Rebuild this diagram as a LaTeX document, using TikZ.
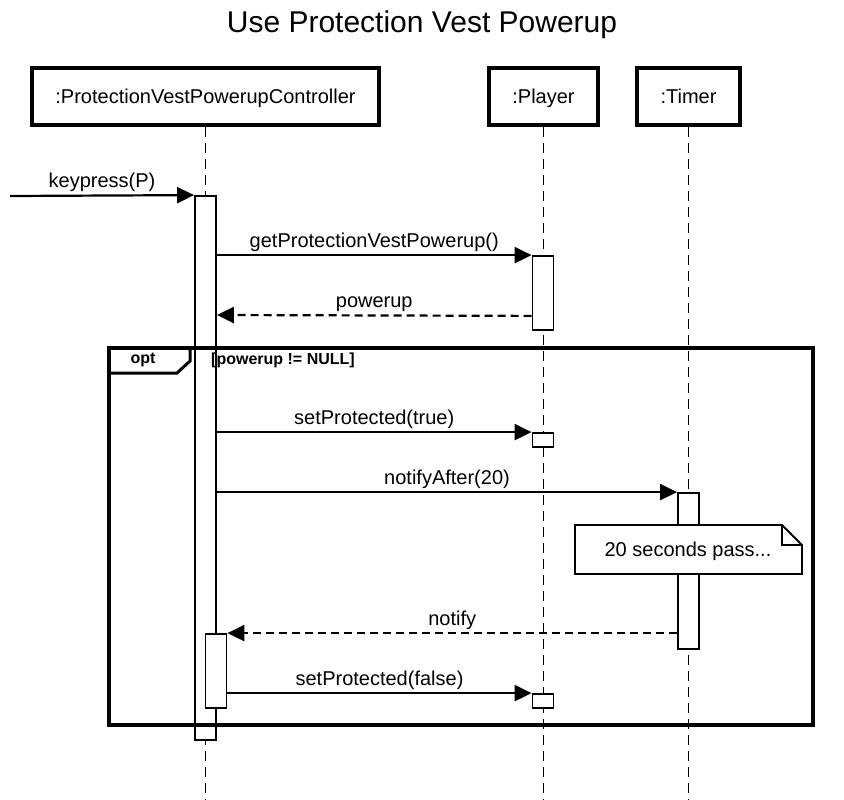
\documentclass[tikz,border=0pt]{standalone}
\usepackage{fontspec}
\setmainfont{Liberation Sans}
\usetikzlibrary{arrows.meta}
\tikzset{
  seq_txt/.style = {font=\fontsize{20}{24}\selectfont},
  seq_obj/.style = {seq_txt, draw=black, line width=3.5pt, fill=white, inner sep=0pt, text height=14pt, text depth=0pt},
  seq_act/.style = {draw=black, line width=1.8pt, fill=white, inner sep=0pt, minimum width=21pt},
  seq_life/.style = {line width=1.8pt, dash pattern=on 10pt off 6pt},
  seq_msg/.style = {line width=2.2pt, -{Triangle[length=17pt,width=16pt]}},
  seq_ret/.style = {seq_msg, dash pattern=on 8pt off 5pt},
  seq_lbl/.style = {seq_txt, midway, anchor=base, yshift=8pt, inner sep=0pt},
}

\begin{document}
\begin{tikzpicture}[x=1pt, y=-1pt]
  \useasboundingbox (0,0) rectangle (844,800);
  \node [font=\fontsize{30}{36}\selectfont] (title) at (422,25) {Use Protection Vest Powerup};

  % lifeline heads
  \node [seq_obj, minimum width=347pt, minimum height=57pt] (ctrl) at (205.5,96.5) {:ProtectionVestPowerupController};
  \node [seq_obj, minimum width=109pt, minimum height=57pt] (player) at (543.5,96.5) {:Player};
  \node [seq_obj, minimum width=103pt, minimum height=57pt] (timer) at (688.5,96.5) {:Timer};

  \draw [seq_life] (ctrl.south) -- (ctrl.south |- 0,800);
  \draw [seq_life] (player.south) -- (player.south |- 0,800);
  \draw [seq_life] (timer.south) -- (timer.south |- 0,800);

  % activations
  \node [seq_act, minimum height=544pt] (actC) at (205.5,468) {};
  \node [seq_act, minimum height=74pt] (actC2) at (216,671) {};
  \node [seq_act, minimum height=74pt] (actP1) at (543,293) {};
  \node [seq_act, minimum height=14pt] (actP2) at (543,440) {};
  \node [seq_act, minimum height=14pt] (actP3) at (543,701) {};
  \node [seq_act, minimum height=156pt] (actT) at (688.5,571) {};

  % opt fragment
  \draw [line width=3.5pt] (109,348) rectangle (813,725);
  \draw [line width=3pt] (109,373) -- (177,373) -- (190,361) -- (190,348);
  \node [font=\bfseries\fontsize{16}{19}\selectfont] (opt) at (143,360) {opt};
  \node [font=\bfseries\fontsize{16}{19}\selectfont, anchor=west, inner sep=0pt] (guard) at (211,360) {[powerup != NULL]};

  % messages
  \coordinate (src) at (10,196);
  \draw [seq_msg] (src) -- (actC.north west) node [seq_lbl] {keypress(P)};
  \draw [seq_msg] (actC.east |- actP1.north) -- (actP1.north west) node [seq_lbl] {getProtectionVestPowerup()};
  \draw [seq_ret] ([yshift=15pt]actP1.south west) -- (actC.east |- 0,315) node [seq_lbl] {powerup};
  \draw [seq_msg] (actC.east |- actP2.north) -- (actP2.north west) node [seq_lbl] {setProtected(true)};
  \draw [seq_msg] (actC.east |- actT.north) -- (actT.north west) node [seq_lbl] {notifyAfter(20)};
  \draw [seq_ret] (actT.west |- actC2.north) -- (actC2.north east) node [seq_lbl] {notify};
  \draw [seq_msg] (actC2.east |- actP3.north) -- (actP3.north west) node [seq_lbl] {setProtected(false)};

  % note
  \draw [line width=1.8pt, fill=white] (575,525) -- (782,525) -- (802,545) -- (802,574) -- (575,574) -- cycle;
  \draw [line width=1.8pt] (782,525) -- (782,545) -- (802,545);
  \node [seq_txt, text height=14pt, text depth=0pt] (wait) at (688,549) {20 seconds pass...};
\end{tikzpicture}
\end{document}
